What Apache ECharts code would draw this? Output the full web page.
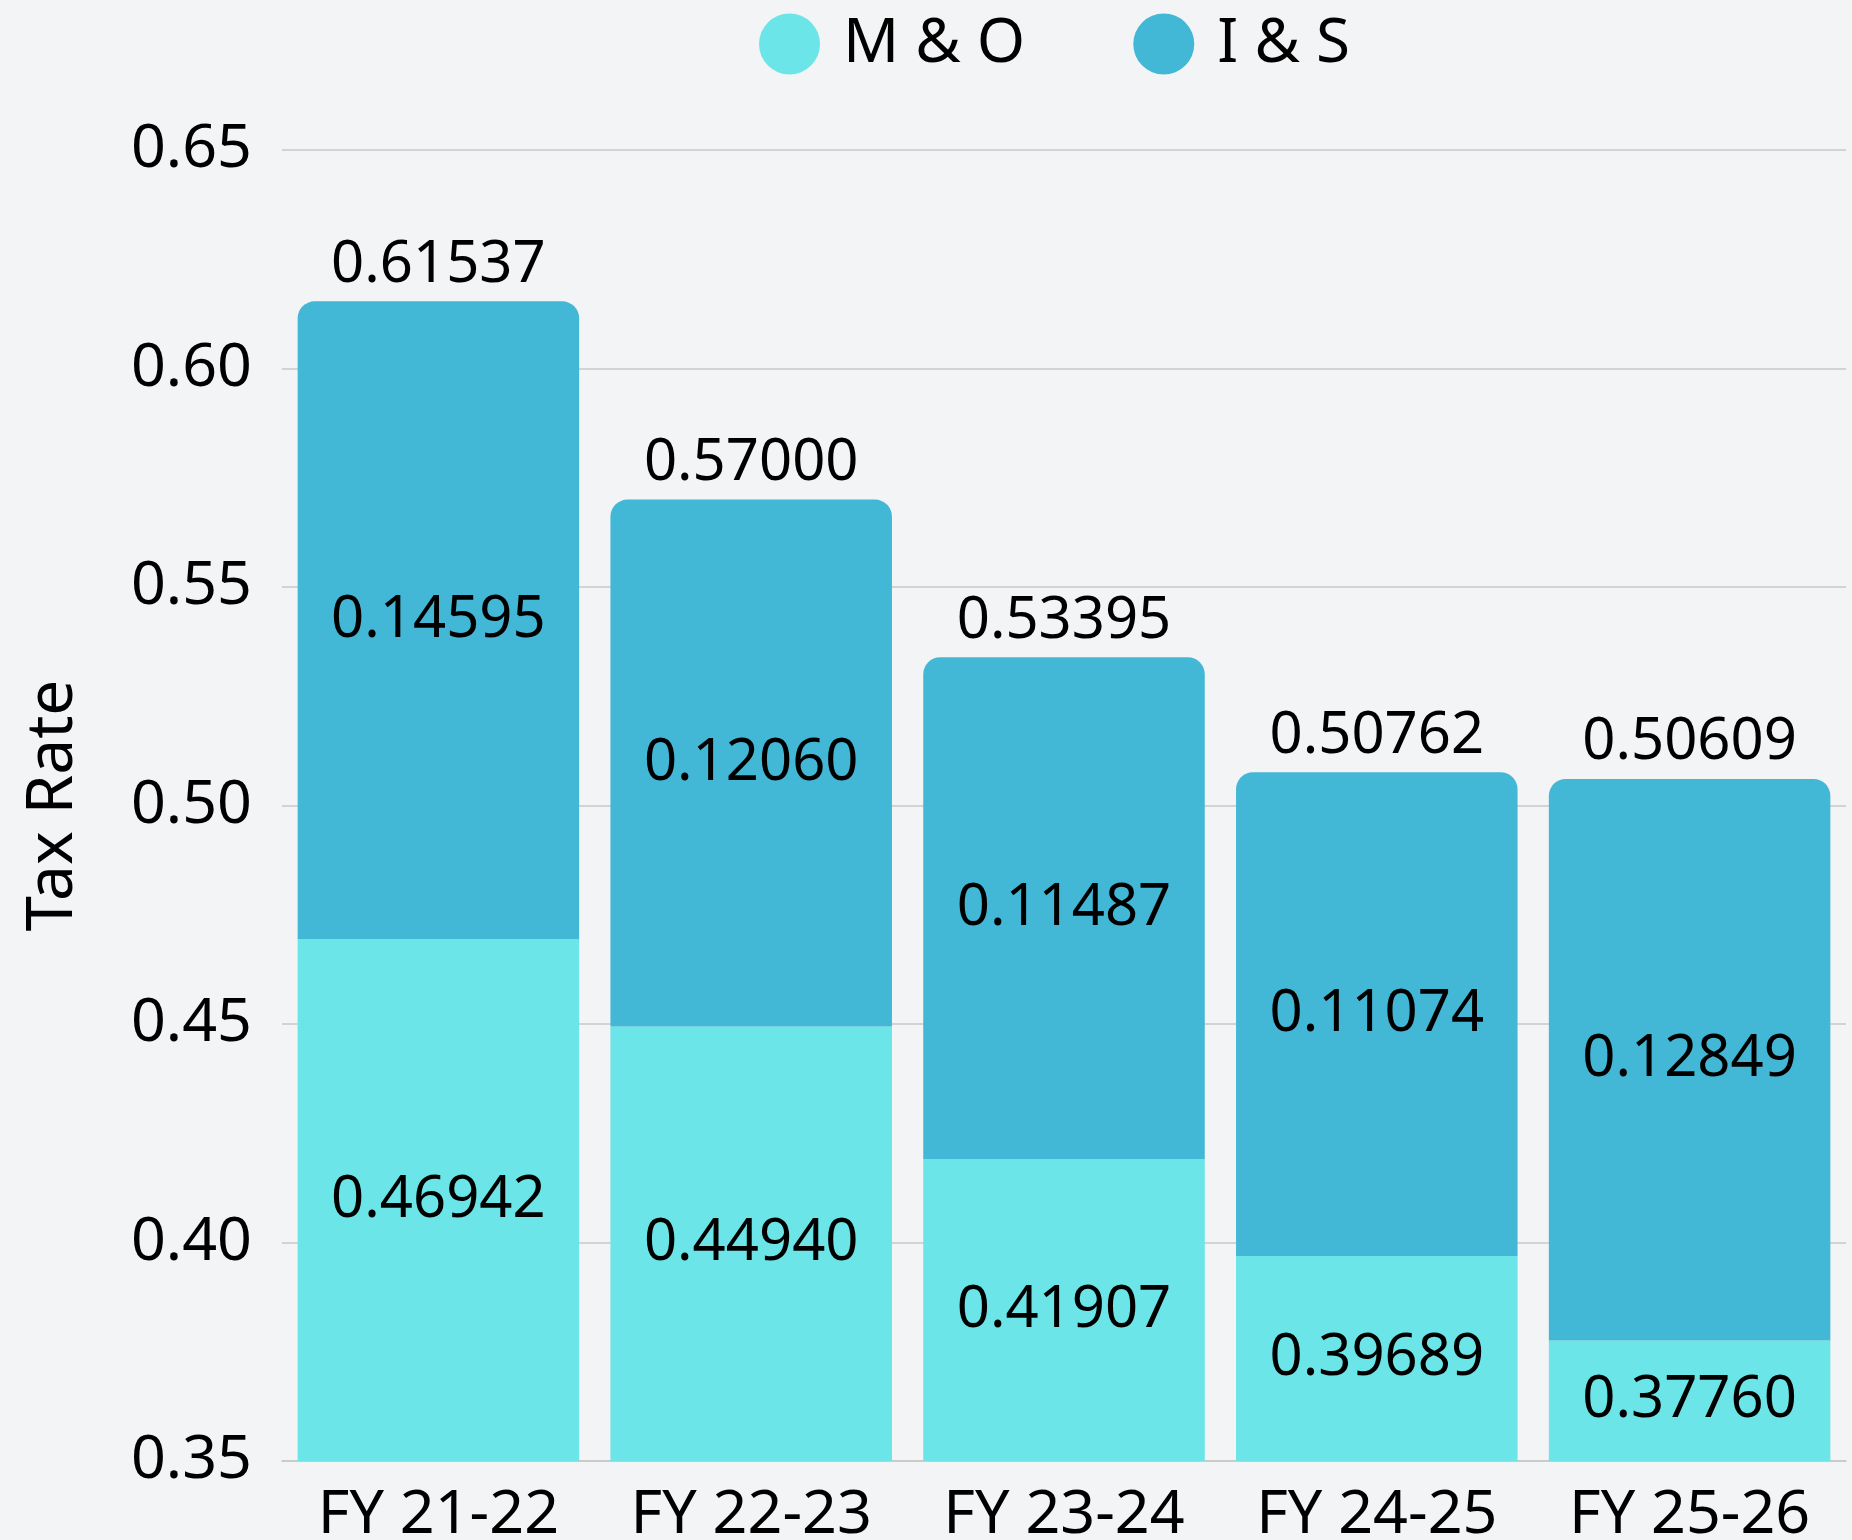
<!DOCTYPE html>
<html>
<head>
<meta charset="utf-8">
<title>Tax Rate</title>
<script src="https://cdn.jsdelivr.net/npm/echarts@6/dist/echarts.min.js"></script>
<style>
  html, body { margin: 0; padding: 0; background: #f3f4f6; }
  #chart { width: 1852px; height: 1540px; }
</style>
</head>
<body>
<div id="chart"></div>
<script>
const categories = ['FY 21-22', 'FY 22-23', 'FY 23-24', 'FY 24-25', 'FY 25-26']
const mo = [0.46942, 0.44940, 0.41907, 0.39689, 0.37760]
const is = [0.14595, 0.12060, 0.11487, 0.11074, 0.12849]
const totals = [0.61537, 0.57000, 0.53395, 0.50762, 0.50609]
const yTicks = [0.35, 0.40, 0.45, 0.50, 0.55, 0.60, 0.65]

const font = 'Noto Sans'
const chart = echarts.init(document.getElementById('chart'))
chart.setOption({
  backgroundColor: '#f3f4f6',
  color: ['#6be5e8', '#42b7d6'],
  textStyle: { fontFamily: font, color: '#000' },
  legend: {
    data: ['M & O', 'I & S'],
    top: 8,
    left: 754,
    icon: 'circle',
    itemWidth: 61,
    itemHeight: 61,
    itemGap: 108,
    textStyle: { fontSize: 62, fontFamily: font, color: '#000', padding: [0, 0, 0, 18] }
  },
  grid: { left: 282, right: 6, top: 150, bottom: 79, outerBoundsMode: 'none', containLabel: false },
  xAxis: {
    type: 'category',
    data: categories,
    axisLine: { show: true, lineStyle: { color: '#c8c8c8', width: 1.5 } },
    axisTick: { show: false },
    axisLabel: { interval: 0, fontSize: 61, fontFamily: font, color: '#000', margin: 24 }
  },
  yAxis: {
    type: 'value',
    min: yTicks[0],
    max: yTicks[yTicks.length - 1],
    interval: 0.05,
    name: 'Tax Rate',
    nameLocation: 'middle',
    nameGap: 196,
    nameTextStyle: { fontSize: 64, fontFamily: font, color: '#000' },
    axisLine: { show: false },
    axisTick: { show: false },
    splitLine: { lineStyle: { color: '#c8c8c8', width: 1.5 } },
    axisLabel: {
      fontSize: 61,
      fontFamily: font,
      color: '#000',
      margin: 30,
      formatter: v => v.toFixed(2)
    }
  },
  series: [
    {
      name: 'M & O',
      type: 'bar',
      stack: 'rate',
      barCategoryGap: '10%',
      data: mo,
      label: {
        show: true,
        position: 'inside',
        fontSize: 58,
        fontFamily: font,
        color: '#000',
        formatter: p => mo[p.dataIndex].toFixed(5)
      }
    },
    {
      name: 'I & S',
      type: 'bar',
      stack: 'rate',
      barCategoryGap: '10%',
      data: is,
      itemStyle: { borderRadius: [17, 17, 0, 0] },
      label: {
        show: true,
        position: 'inside',
        fontSize: 58,
        fontFamily: font,
        color: '#000',
        formatter: p => is[p.dataIndex].toFixed(5)
      }
    },
    {
      name: 'Total',
      type: 'scatter',
      data: totals,
      symbolSize: 0,
      silent: true,
      itemStyle: { opacity: 1 },
      label: {
        show: true,
        position: 'top',
        distance: 7,
        fontSize: 58,
        fontFamily: font,
        color: '#000',
        opacity: 1,
        formatter: p => totals[p.dataIndex].toFixed(5)
      }
    }
  ]
})
window.addEventListener('resize', () => chart.resize())
</script>
</body>
</html>
